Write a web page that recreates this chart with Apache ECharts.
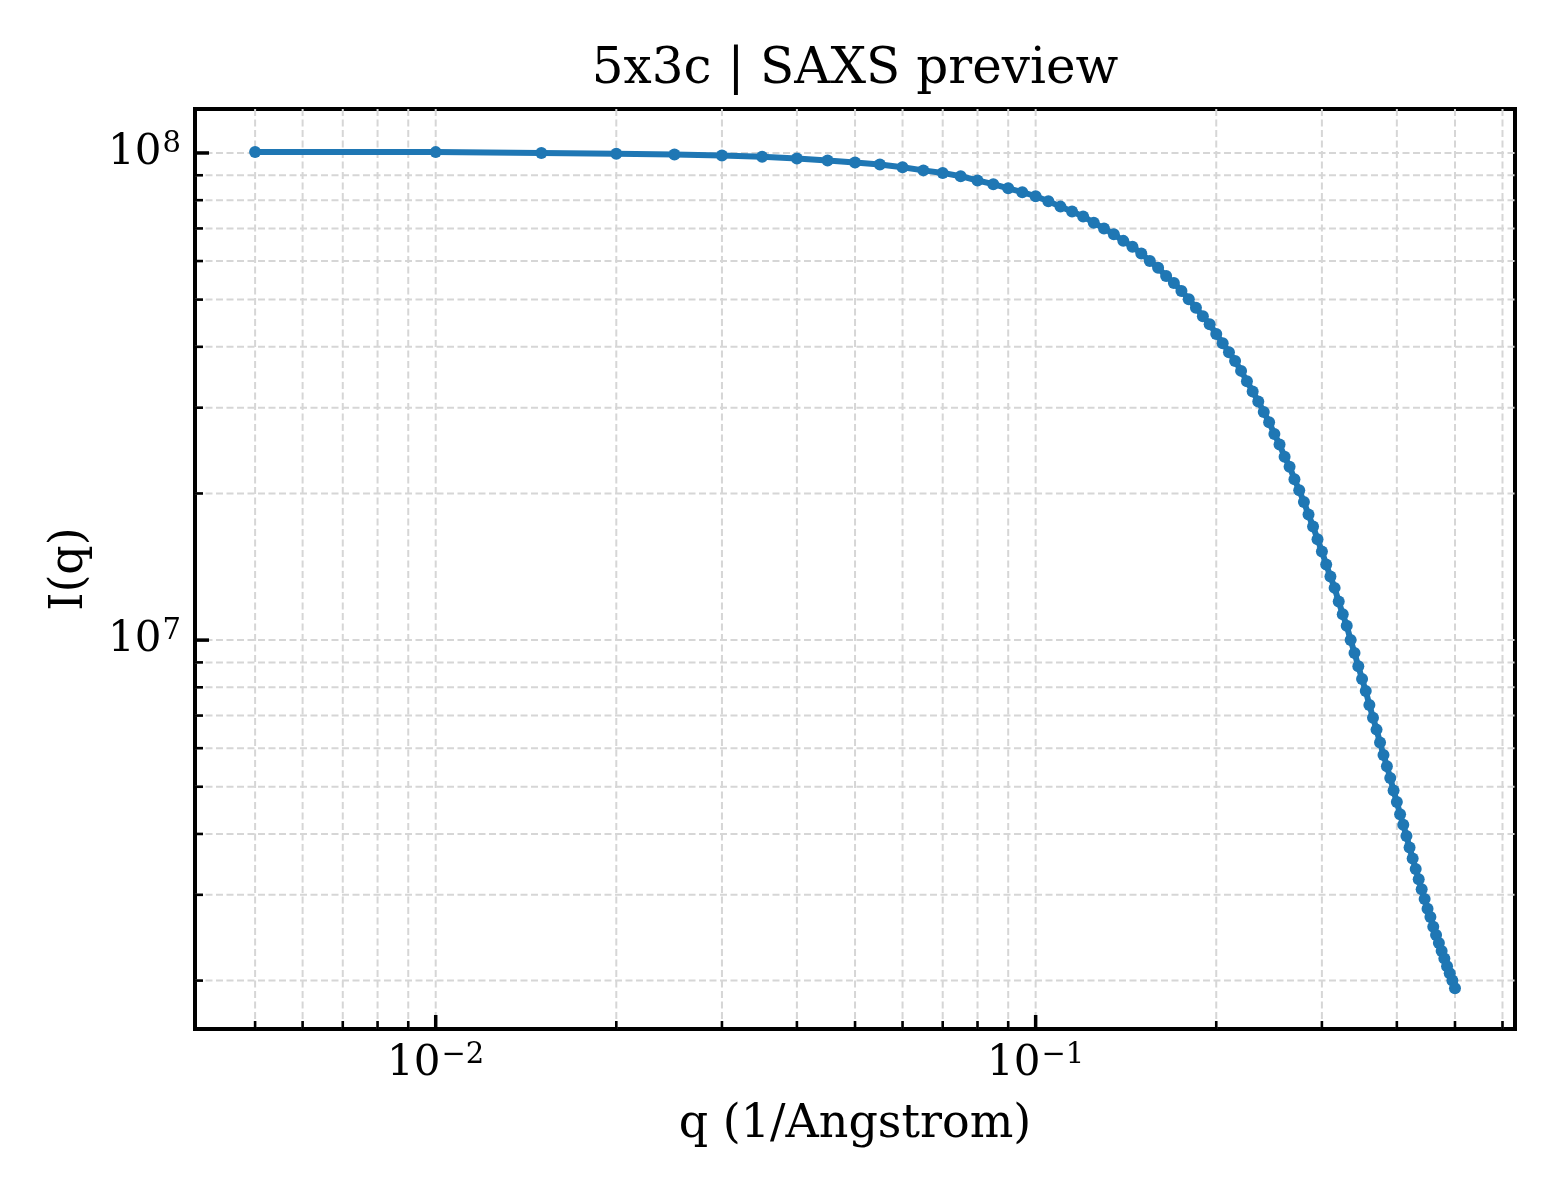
<!DOCTYPE html>
<html>
<head>
<meta charset="utf-8">
<style>
  html, body { margin: 0; padding: 0; background: #fff; }
  #chart { width: 1560px; height: 1200px; }
</style>
<script src="https://cdn.jsdelivr.net/npm/echarts@6/dist/echarts.min.js"></script>
</head>
<body>
<div id="chart"></div>
<script>
// q grid (1/Angstrom) and intensities
const qValues = [
  0.005, 0.010, 0.015, 0.020, 0.025, 0.030, 0.035, 0.040, 0.045, 0.050,
  0.055, 0.060, 0.065, 0.070, 0.075, 0.080, 0.085, 0.090, 0.095, 0.100,
  0.105, 0.110, 0.115, 0.120, 0.125, 0.130, 0.135, 0.140, 0.145, 0.150,
  0.155, 0.160, 0.165, 0.170, 0.175, 0.180, 0.185, 0.190, 0.195, 0.200,
  0.205, 0.210, 0.215, 0.220, 0.225, 0.230, 0.235, 0.240, 0.245, 0.250,
  0.255, 0.260, 0.265, 0.270, 0.275, 0.280, 0.285, 0.290, 0.295, 0.300,
  0.305, 0.310, 0.315, 0.320, 0.325, 0.330, 0.335, 0.340, 0.345, 0.350,
  0.355, 0.360, 0.365, 0.370, 0.375, 0.380, 0.385, 0.390, 0.395, 0.400,
  0.405, 0.410, 0.415, 0.420, 0.425, 0.430, 0.435, 0.440, 0.445, 0.450,
  0.455, 0.460, 0.465, 0.470, 0.475, 0.480, 0.485, 0.490, 0.495, 0.500
];
const intensity = [
  1.005e8, 1.004e8, 1.000e8, 9.96e7, 9.93e7, 9.88e7, 9.82e7, 9.74e7, 9.65e7, 9.56e7,
  9.47e7, 9.35e7, 9.21e7, 9.10e7, 8.96e7, 8.78e7, 8.63e7, 8.46e7, 8.31e7, 8.15e7,
  7.96e7, 7.76e7, 7.58e7, 7.41e7, 7.19e7, 7.00e7, 6.81e7, 6.60e7, 6.42e7, 6.22e7,
  6.00e7, 5.81e7, 5.59e7, 5.41e7, 5.21e7, 5.01e7, 4.81e7, 4.62e7, 4.45e7, 4.25e7,
  4.07e7, 3.90e7, 3.74e7, 3.57e7, 3.40e7, 3.24e7, 3.09e7, 2.94e7, 2.80e7, 2.65e7,
  2.52e7, 2.38e7, 2.27e7, 2.14e7, 2.03e7, 1.92e7, 1.81e7, 1.71e7, 1.61e7, 1.52e7,
  1.43e7, 1.35e7, 1.28e7, 1.20e7, 1.13e7, 1.07e7, 1.00e7, 9.41e6, 8.84e6, 8.32e6,
  7.86e6, 7.36e6, 6.93e6, 6.55e6, 6.16e6, 5.81e6, 5.51e6, 5.21e6, 4.91e6, 4.65e6,
  4.39e6, 4.18e6, 3.96e6, 3.75e6, 3.56e6, 3.39e6, 3.23e6, 3.08e6, 2.94e6, 2.81e6,
  2.70e6, 2.58e6, 2.48e6, 2.39e6, 2.30e6, 2.22e6, 2.14e6, 2.07e6, 2.00e6, 1.93e6
];

// tick positions
const xMajorTicks = [0.01, 0.1];
const xMinorTicks = [0.005, 0.006, 0.007, 0.008, 0.009,
  0.02, 0.03, 0.04, 0.05, 0.06, 0.07, 0.08, 0.09,
  0.2, 0.3, 0.4, 0.5, 0.6];
const yMajorTicks = [1e7, 1e8];
const yMinorTicks = [2e6, 3e6, 4e6, 5e6, 6e6, 7e6, 8e6, 9e6,
  2e7, 3e7, 4e7, 5e7, 6e7, 7e7, 8e7, 9e7];

const FONT = '"DejaVu Serif", serif';
const BLUE = '#1f77b4';

// items: [x, y, axis (0 = x, 1 = y), major (1) / minor (0)]
const tickItems = [];
xMajorTicks.forEach(v => tickItems.push([v, 1e7, 0, 1]));
xMinorTicks.forEach(v => tickItems.push([v, 1e7, 0, 0]));
yMajorTicks.forEach(v => tickItems.push([0.01, v, 1, 1]));
yMinorTicks.forEach(v => tickItems.push([0.01, v, 1, 0]));

function powLabel(v) {
  const e = Math.log10(v);
  if (Math.abs(e - Math.round(e)) > 1e-6) return '';
  const n = Math.round(e);
  return '{b|10}{s|' + (n < 0 ? '\u2212' + (-n) : n) + '}';
}
const labelRich = {
  b: { fontFamily: FONT, fontSize: 42, lineHeight: 46, color: '#000' },
  s: { fontFamily: FONT, fontSize: 29, lineHeight: 30, color: '#000', verticalAlign: 'top', padding: [0, 0, 0, 1] }
};

const myChart = echarts.init(document.getElementById('chart'), null, { renderer: 'canvas' });
const option = {
  backgroundColor: '#fff',
  animation: false,
  title: {
    text: '5x3c | SAXS preview',
    left: 850,
    textAlign: 'center',
    top: 40,
    textStyle: { fontFamily: FONT, fontSize: 50, fontWeight: 'normal', color: '#000' }
  },
  grid: {
    left: 195, top: 109, right: 45, bottom: 171,
    show: true, borderColor: '#000', borderWidth: 4, backgroundColor: 'transparent'
  },
  xAxis: {
    type: 'log',
    logBase: 10,
    min: 0.00397,
    max: 0.6295,
    name: 'q (1/Angstrom)',
    nameLocation: 'middle',
    nameGap: 73,
    nameTextStyle: { fontFamily: FONT, fontSize: 46, color: '#000' },
    axisLine: { show: false },
    axisTick: { show: false },
    splitLine: { show: false },
    minorTick: { show: false },
    axisLabel: { margin: 12, formatter: powLabel, rich: labelRich }
  },
  yAxis: {
    type: 'log',
    logBase: 10,
    min: 1.591e6,
    max: 1.231e8,
    name: 'I(q)',
    nameLocation: 'middle',
    nameGap: 102,
    nameRotate: 90,
    nameTextStyle: { fontFamily: FONT, fontSize: 46, color: '#000' },
    axisLine: { show: false },
    axisTick: { show: false },
    splitLine: { show: false },
    minorTick: { show: false },
    axisLabel: { margin: 14, formatter: powLabel, rich: labelRich }
  },
  series: [
    {
      // grid lines and inward ticks, placed through the axis scales
      type: 'custom',
      silent: true,
      z: 1,
      clip: false,
      data: tickItems,
      renderItem: function (params, api) {
        const cs = params.coordSys;
        const major = api.value(3) === 1;
        const len = major ? 14 : 8;
        const tw = major ? 3.5 : 2.6;
        const grid = { stroke: '#d6d6d6', lineWidth: 2, lineDash: [7, 3.5] };
        if (api.value(2) === 0) {
          const px = api.coord([api.value(0), api.value(1)])[0];
          const yb = cs.y + cs.height;
          return { type: 'group', children: [
            { type: 'line', shape: { x1: px, y1: cs.y, x2: px, y2: yb }, style: grid },
            { type: 'line', shape: { x1: px, y1: yb, x2: px, y2: yb - len }, style: { stroke: '#000', lineWidth: tw } }
          ] };
        }
        const py = api.coord([api.value(0), api.value(1)])[1];
        return { type: 'group', children: [
          { type: 'line', shape: { x1: cs.x, y1: py, x2: cs.x + cs.width, y2: py }, style: grid },
          { type: 'line', shape: { x1: cs.x, y1: py, x2: cs.x + len, y2: py }, style: { stroke: '#000', lineWidth: tw } }
        ] };
      }
    },
    {
      name: 'I(q)',
      type: 'line',
      z: 3,
      data: qValues.map((q, i) => [q, intensity[i]]),
      symbol: 'circle',
      symbolSize: 12,
      showSymbol: true,
      lineStyle: { color: BLUE, width: 6 },
      itemStyle: { color: BLUE }
    }
  ]
};
myChart.setOption(option);
</script>
</body>
</html>
